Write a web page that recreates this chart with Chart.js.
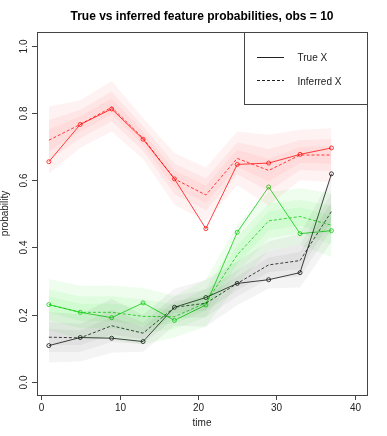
<!DOCTYPE html>
<html>
<head>
<meta charset="utf-8">
<script src="https://cdn.jsdelivr.net/npm/chart.js@4.4.1/dist/chart.umd.min.js"></script>
<style>
  body { margin: 0; background: #fff; }
  canvas { display: block; }
</style>
</head>
<body>
<canvas id="chart" width="387" height="436"></canvas>
<script>
const times = [1, 5, 9, 13, 17, 21, 25, 29, 33, 37];
const xTicks = [0, 10, 20, 30, 40];
const yTicks = [0.0, 0.2, 0.4, 0.6, 0.8, 1.0];

const redTrue = [0.655, 0.766, 0.812, 0.722, 0.604, 0.456, 0.647, 0.651, 0.677, 0.696];
const redInferred = [0.719, 0.766, 0.817, 0.725, 0.604, 0.556, 0.665, 0.629, 0.675, 0.675];
const greenTrue = [0.230, 0.207, 0.191, 0.235, 0.183, 0.229, 0.445, 0.580, 0.441, 0.450];
const greenInferred = [0.230, 0.207, 0.207, 0.195, 0.194, 0.235, 0.378, 0.479, 0.492, 0.466];
const blackTrue = [0.108, 0.132, 0.130, 0.120, 0.222, 0.251, 0.293, 0.304, 0.325, 0.619];
const blackInferred = [0.133, 0.131, 0.167, 0.145, 0.222, 0.234, 0.293, 0.348, 0.361, 0.507];

// uncertainty bands (outer / mid / inner)
const redOuterLow = [0.619, 0.696, 0.745, 0.663, 0.527, 0.478, 0.585, 0.525, 0.600, 0.595];
const redOuterHigh = [0.819, 0.838, 0.895, 0.785, 0.681, 0.638, 0.745, 0.735, 0.750, 0.755];
const redMidLow = [0.659, 0.724, 0.775, 0.687, 0.558, 0.510, 0.617, 0.567, 0.630, 0.627];
const redMidHigh = [0.779, 0.810, 0.865, 0.761, 0.650, 0.606, 0.713, 0.693, 0.720, 0.723];
const redInnerLow = [0.687, 0.744, 0.796, 0.704, 0.579, 0.532, 0.639, 0.596, 0.651, 0.649];
const redInnerHigh = [0.751, 0.790, 0.844, 0.744, 0.629, 0.584, 0.691, 0.664, 0.699, 0.701];

const greenOuterLow = [0.154, 0.128, 0.127, 0.111, 0.132, 0.165, 0.289, 0.392, 0.408, 0.371];
const greenOuterHigh = [0.306, 0.286, 0.287, 0.279, 0.256, 0.305, 0.467, 0.566, 0.576, 0.561];
const greenMidLow = [0.184, 0.160, 0.159, 0.145, 0.157, 0.193, 0.325, 0.427, 0.442, 0.409];
const greenMidHigh = [0.276, 0.254, 0.255, 0.245, 0.231, 0.277, 0.431, 0.531, 0.542, 0.523];
const greenInnerLow = [0.206, 0.182, 0.181, 0.168, 0.174, 0.213, 0.350, 0.451, 0.465, 0.436];
const greenInnerHigh = [0.254, 0.232, 0.233, 0.222, 0.214, 0.257, 0.406, 0.507, 0.519, 0.496];

const blackOuterLow = [0.058, 0.061, 0.087, 0.090, 0.167, 0.164, 0.228, 0.278, 0.281, 0.417];
const blackOuterHigh = [0.208, 0.201, 0.247, 0.200, 0.277, 0.304, 0.358, 0.418, 0.441, 0.610];
const blackMidLow = [0.088, 0.089, 0.119, 0.112, 0.189, 0.192, 0.254, 0.306, 0.313, 0.453];
const blackMidHigh = [0.178, 0.173, 0.215, 0.178, 0.255, 0.276, 0.332, 0.390, 0.409, 0.561];
const blackInnerLow = [0.109, 0.109, 0.141, 0.127, 0.204, 0.212, 0.272, 0.326, 0.335, 0.478];
const blackInnerHigh = [0.157, 0.153, 0.193, 0.163, 0.240, 0.256, 0.314, 0.370, 0.387, 0.536];

const FONT = '"Liberation Sans", Arial, Helvetica, sans-serif';

function pts(values) {
  return values.map((v, i) => ({ x: times[i], y: v }));
}

function band(high, low, color) {
  return [
    { data: pts(high), borderWidth: 0, pointRadius: 0, fill: '+1', backgroundColor: color },
    { data: pts(low), borderWidth: 0, pointRadius: 0, fill: false }
  ];
}

function line(values, color, dashed, withPoints) {
  return {
    data: pts(values),
    borderColor: color,
    borderWidth: 1,
    borderDash: dashed ? [3, 2] : [],
    fill: false,
    pointRadius: withPoints ? 2 : 0,
    pointBorderColor: color,
    pointBackgroundColor: 'rgba(0,0,0,0)',
    pointBorderWidth: 1
  };
}

const redFill = 'rgba(255,0,0,0.05)';
const greenFill = 'rgba(0,230,0,0.065)';
const blackFill = 'rgba(0,0,0,0.045)';
const redLine = 'rgba(255,0,0,0.75)';
const greenLine = 'rgba(0,200,0,0.75)';
const blackLine = 'rgba(0,0,0,0.75)';

const datasets = [
  ...band(blackOuterHigh, blackOuterLow, blackFill),
  ...band(blackMidHigh, blackMidLow, blackFill),
  ...band(blackInnerHigh, blackInnerLow, blackFill),
  ...band(redOuterHigh, redOuterLow, redFill),
  ...band(redMidHigh, redMidLow, redFill),
  ...band(redInnerHigh, redInnerLow, redFill),
  ...band(greenOuterHigh, greenOuterLow, greenFill),
  ...band(greenMidHigh, greenMidLow, greenFill),
  ...band(greenInnerHigh, greenInnerLow, greenFill),
  line(blackInferred, blackLine, true, false),
  line(blackTrue, blackLine, false, true),
  line(redInferred, redLine, true, false),
  line(redTrue, redLine, false, true),
  line(greenInferred, greenLine, true, false),
  line(greenTrue, greenLine, false, true)
];

// R-style frame, axes, labels and legend
const rDecor = {
  id: 'rDecor',
  afterDraw(chart) {
    const ctx = chart.ctx;
    const a = chart.chartArea;
    const xs = chart.scales.x;
    const ys = chart.scales.y;
    ctx.save();
    ctx.strokeStyle = '#444';
    ctx.fillStyle = '#222';
    ctx.lineWidth = 1;
    ctx.setLineDash([]);
    ctx.strokeRect(Math.round(a.left) + 0.5, Math.round(a.top) + 0.5,
      Math.round(a.right - a.left), Math.round(a.bottom - a.top));

    ctx.font = '10px ' + FONT;
    ctx.textAlign = 'center';
    ctx.textBaseline = 'alphabetic';
    xTicks.forEach(t => {
      const x = Math.round(xs.getPixelForValue(t)) + 0.5;
      ctx.beginPath();
      ctx.moveTo(x, a.bottom);
      ctx.lineTo(x, a.bottom + 5);
      ctx.stroke();
      ctx.fillText(String(t), x, 411);
    });
    yTicks.forEach(t => {
      const y = Math.round(ys.getPixelForValue(t)) + 0.5;
      ctx.beginPath();
      ctx.moveTo(a.left - 5, y);
      ctx.lineTo(a.left, y);
      ctx.stroke();
      ctx.save();
      ctx.translate(27, y);
      ctx.rotate(-Math.PI / 2);
      ctx.fillText(t.toFixed(1), 0, 0);
      ctx.restore();
    });

    ctx.fillText('time', (a.left + a.right) / 2, 426);
    ctx.save();
    ctx.translate(8, (a.top + a.bottom) / 2);
    ctx.rotate(-Math.PI / 2);
    ctx.fillText('probability', 0, 0);
    ctx.restore();

    ctx.fillStyle = '#000';
    ctx.font = 'bold 12px ' + FONT;
    ctx.fillText('True vs inferred feature probabilities, obs = 10', (a.left + a.right) / 2, 20);

    // legend
    const lx = 244.5, ly = Math.round(a.top) + 0.5, lw = Math.round(a.right) - 244, lh = 72;
    ctx.fillStyle = '#fff';
    ctx.fillRect(lx, ly, lw, lh);
    ctx.strokeStyle = '#444';
    ctx.strokeRect(lx, ly, lw, lh);
    ctx.strokeStyle = '#222';
    ctx.beginPath();
    ctx.moveTo(257, 57.5);
    ctx.lineTo(284, 57.5);
    ctx.stroke();
    ctx.setLineDash([3, 2]);
    ctx.beginPath();
    ctx.moveTo(257, 80.5);
    ctx.lineTo(284, 80.5);
    ctx.stroke();
    ctx.setLineDash([]);
    ctx.fillStyle = '#222';
    ctx.font = '10px ' + FONT;
    ctx.textAlign = 'left';
    ctx.fillText('True X', 297.5, 60.5);
    ctx.fillText('Inferred X', 297.5, 84.5);
    ctx.restore();
  }
};

new Chart(document.getElementById('chart'), {
  type: 'line',
  data: { datasets },
  options: {
    responsive: false,
    animation: false,
    devicePixelRatio: 1,
    layout: { padding: { left: 37, right: 20, top: 32, bottom: 41 } },
    elements: { line: { tension: 0 } },
    scales: {
      x: { type: 'linear', min: -0.51, max: 41.53, display: false },
      y: { type: 'linear', min: -0.039, max: 1.041, display: false }
    },
    plugins: {
      legend: { display: false },
      tooltip: { enabled: false }
    }
  },
  plugins: [rDecor]
});
</script>
</body>
</html>
